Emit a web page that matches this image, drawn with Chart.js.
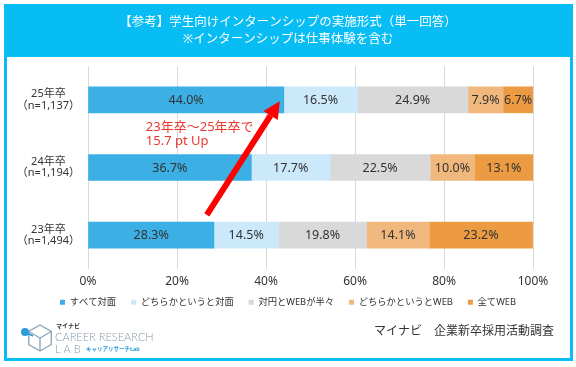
<!DOCTYPE html>
<html>
<head>
<meta charset="utf-8">
<script src="https://cdn.jsdelivr.net/npm/chart.js@4.4.1/dist/chart.umd.min.js"></script>
<style>
  html, body { margin: 0; padding: 0; background: #fff; }
  #wrap { width: 576px; height: 367px; position: relative; }
</style>
</head>
<body>
<div id="wrap"><canvas id="c" width="576" height="367"></canvas></div>
<script>
// ---- data ----
const categories = [['25年卒', '（n=1,137）'], ['24年卒', '（n=1,194）'], ['23年卒', '（n=1,494）']];
const seriesNames = ['すべて対面', 'どちらかというと対面', '対円とWEBが半々', 'どちらかというとWEB', '全てWEB'];
const allInPerson    = [44.0, 36.7, 28.3];
const mostlyInPerson = [16.5, 17.7, 14.5];
const halfAndHalf    = [24.9, 22.5, 19.8];
const mostlyWeb      = [7.9, 10.0, 14.1];
const allWeb         = [6.7, 13.1, 23.2];
const xTicks = [0, 20, 40, 60, 80, 100];
const titleLines = ['【参考】学生向けインターンシップの実施形式（単一回答）', '※インターンシップは仕事体験を含む'];
const calloutLines = ['23年卒～25年卒で', '15.7 pt Up'];
const sourceText = 'マイナビ　企業新卒採用活動調査';

const seriesValues = [allInPerson, mostlyInPerson, halfAndHalf, mostlyWeb, allWeb];
const seriesColors = ['#3CAFE4', '#CBE9FB', '#D9D9D9', '#F1B87D', '#EC9B42'];
const BAND = '#07BDF4';
const FONT = '"Noto Sans", "Noto Sans CJK JP", sans-serif';

const framePlugin = {
  id: 'frame',
  afterLayout(chart) {
    // pull the legend row up under the tick labels
    const lg = chart.legend;
    if (lg) { lg.top -= 6.5; lg.bottom -= 6.5; }
  },
  beforeDraw(chart) {
    const ctx = chart.ctx;
    ctx.save();
    ctx.fillStyle = '#fff';
    ctx.fillRect(0, 0, chart.width, chart.height);
    ctx.fillStyle = BAND;
    ctx.fillRect(4, 4, 569, 53);
    ctx.strokeStyle = BAND;
    ctx.lineWidth = 3;
    ctx.strokeRect(5.5, 5.5, 566, 354);
    ctx.restore();
  },
  afterDraw(chart) {
    const ctx = chart.ctx;
    ctx.save();
    ctx.fillStyle = '#333';
    ctx.font = '12px ' + FONT;
    ctx.textAlign = 'right';
    ctx.textBaseline = 'middle';
    ctx.fillText(sourceText, 554, 332);
    // logo icon
    ctx.strokeStyle = '#8FA8BA';
    ctx.lineWidth = 1.4;
    const cx = 40, cy = 338, r = 13;
    ctx.beginPath();
    for (let i = 0; i < 6; i++) {
      const a = Math.PI / 6 + i * Math.PI / 3;
      const px = cx + r * Math.cos(a), py = cy + r * Math.sin(a);
      if (i === 0) ctx.moveTo(px, py); else ctx.lineTo(px, py);
    }
    ctx.closePath();
    ctx.stroke();
    ctx.beginPath();
    ctx.moveTo(cx, cy); ctx.lineTo(cx, cy + r);
    ctx.moveTo(cx, cy); ctx.lineTo(cx - r * Math.cos(Math.PI / 6), cy - r / 2);
    ctx.moveTo(cx, cy); ctx.lineTo(cx + r * Math.cos(Math.PI / 6), cy - r / 2);
    ctx.stroke();
    ctx.fillStyle = '#2E9BDA';
    ctx.beginPath(); ctx.arc(25, 332, 4, 0, Math.PI * 2); ctx.fill();
    ctx.strokeStyle = '#2E9BDA';
    ctx.lineWidth = 1.6;
    ctx.beginPath(); ctx.moveTo(25, 332); ctx.lineTo(33, 336); ctx.stroke();
    ctx.textAlign = 'left';
    ctx.fillStyle = '#333';
    ctx.font = 'bold 6px ' + FONT;
    ctx.fillText('マイナビ', 56, 326);
    ctx.fillStyle = '#8398A9';
    ctx.font = '300 11px Lato, "Open Sans", sans-serif';
    ctx.fillText('CAREER RESEARCH', 55, 337);
    ctx.fillText('L A B', 55, 349);
    ctx.fillStyle = '#2E9BDA';
    ctx.font = 'bold 5.5px ' + FONT;
    ctx.fillText('キャリアリサーチLab', 86, 349);
    ctx.restore();
  }
};

const labelPlugin = {
  id: 'segLabels',
  afterDatasetsDraw(chart) {
    const ctx = chart.ctx;
    ctx.save();
    ctx.fillStyle = '#333';
    ctx.font = '12.5px ' + FONT;
    ctx.textAlign = 'center';
    ctx.textBaseline = 'middle';
    chart.data.datasets.forEach((ds, di) => {
      const meta = chart.getDatasetMeta(di);
      meta.data.forEach((el, i) => {
        const v = ds.data[i];
        ctx.fillText(v.toFixed(1) + '%', (el.x + el.base) / 2, el.y + 0.5);
      });
    });
    ctx.restore();
  },
  afterDraw(chart) {
    const ctx = chart.ctx, xs = chart.scales.x, ys = chart.scales.y;
    ctx.save();
    const x1 = xs.getPixelForValue(26.7), y1 = ys.getPixelForValue(1.70);
    const x2 = xs.getPixelForValue(43.1), y2 = ys.getPixelForValue(0.02);
    const ang = Math.atan2(y2 - y1, x2 - x1);
    const headLen = 17, headW = 8.5;
    const bx = x2 - headLen * Math.cos(ang), by = y2 - headLen * Math.sin(ang);
    ctx.strokeStyle = '#FF0000';
    ctx.fillStyle = '#FF0000';
    ctx.lineWidth = 6;
    ctx.beginPath(); ctx.moveTo(x1, y1); ctx.lineTo(bx, by); ctx.stroke();
    ctx.beginPath();
    ctx.moveTo(x2, y2);
    ctx.lineTo(bx + headW * Math.sin(ang), by - headW * Math.cos(ang));
    ctx.lineTo(bx - headW * Math.sin(ang), by + headW * Math.cos(ang));
    ctx.closePath(); ctx.fill();
    ctx.fillStyle = '#E8392F';
    ctx.font = '13px ' + FONT;
    ctx.textAlign = 'left';
    ctx.textBaseline = 'middle';
    const tx = xs.getPixelForValue(13.0);
    ctx.fillText(calloutLines[0], tx, ys.getPixelForValue(0.40));
    ctx.fillText(calloutLines[1], tx, ys.getPixelForValue(0.62));
    ctx.restore();
  }
};

new Chart(document.getElementById('c'), {
  type: 'bar',
  data: {
    labels: categories,
    datasets: seriesNames.map((name, i) => ({
      label: name,
      data: seriesValues[i],
      backgroundColor: seriesColors[i],
      borderWidth: 0,
      barThickness: 26
    }))
  },
  options: {
    indexAxis: 'y',
    responsive: false,
    animation: false,
    devicePixelRatio: 1,
    layout: { padding: { top: 4, left: 0, right: 0, bottom: 43.7 } },
    scales: {
      x: {
        stacked: true,
        min: 0, max: 100,
        afterBuildTicks(scale) { scale.ticks = xTicks.map(v => ({ value: v })); },
        afterFit(scale) { scale.height = 20; },
        grid: { color: '#D9D9D9', lineWidth: 1, drawTicks: false },
        border: { display: false },
        ticks: {
          padding: 5,
          color: '#333',
          font: { size: 12, family: FONT },
          callback: v => v + '%'
        }
      },
      y: {
        stacked: true,
        afterFit(scale) { scale.width = 88; },
        grid: { display: false, drawTicks: false },
        border: { display: false },
        ticks: {
          padding: 8,
          crossAlign: 'center',
          color: '#333',
          font: { size: 11, family: FONT, lineHeight: 1.05 }
        }
      },
      yRight: {
        type: 'category',
        position: 'right',
        afterFit(scale) { scale.width = 43; },
        grid: { display: false, drawTicks: false },
        border: { display: false },
        ticks: { display: false }
      }
    },
    plugins: {
      title: {
        display: true,
        text: titleLines,
        color: '#fff',
        font: { size: 12.5, family: FONT, weight: 'normal', lineHeight: 1.36 },
        padding: { top: 9.5, bottom: 18.5 }
      },
      legend: {
        position: 'bottom',
        labels: {
          boxWidth: 5,
          boxHeight: 5,
          padding: 15,
          color: '#333',
          font: { size: 9.3, family: FONT }
        }
      },
      tooltip: { enabled: false }
    }
  },
  plugins: [framePlugin, labelPlugin]
});
</script>
</body>
</html>
